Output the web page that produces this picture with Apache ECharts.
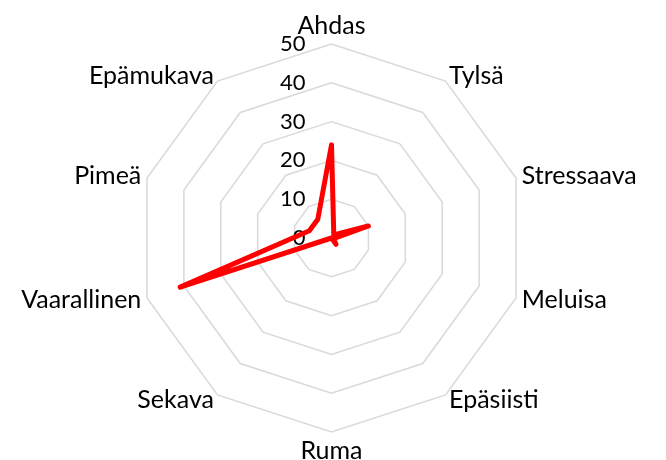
<!DOCTYPE html>
<html><head><meta charset="utf-8">
<script src="https://cdn.jsdelivr.net/npm/echarts@6/dist/echarts.min.js"></script>
<style>html,body{margin:0;padding:0;background:#fff}#c{width:666px;height:460px}</style>
</head><body><div id="c"></div>
<script>
var categories = ['Ahdas','Tylsä','Stressaava','Meluisa','Epäsiisti','Ruma','Sekava','Vaarallinen','Pimeä','Epämukava'];
var values = [24, 1, 10, 0.5, 2, 0, 0, 41, 6, 6];
var axisMax = 50;
var tickStep = 10;

// ECharts radar runs counter-clockwise; reorder (keep first, reverse rest) to read clockwise
function cw(arr){ return [arr[0]].concat(arr.slice(1).reverse()); }

var FONT = 'Lato';
var chart = echarts.init(document.getElementById('c'), null, {renderer:'canvas'});
chart.setOption({
  backgroundColor:'#fff',
  animation:false,
  radar:{
    center:[331.5,238], radius:194, startAngle:90, shape:'polygon', splitNumber:5,
    indicator: cw(categories).map(function(n){return {name:n, min:0, max:axisMax};}),
    axisName:{color:'#000', fontFamily:FONT, fontSize:25},
    nameGap:6,
    axisLine:{show:false},
    splitLine:{lineStyle:{color:'#d9d9d9', width:1.5}},
    splitArea:{show:false},
    axisLabel:{show:false}
  },
  polar:{center:[331.5,238], radius:194},
  angleAxis:{startAngle:90, show:false, min:0, max:360},
  radiusAxis:{min:0, max:axisMax, interval:tickStep, axisLine:{show:false}, axisTick:{show:false}, splitLine:{show:false},
    axisLabel:{show:true, color:'#000', fontFamily:FONT, fontSize:22, margin:26}},
  series:[{type:'radar', symbol:'none', lineStyle:{color:'#ff0000', width:5, join:'round', cap:'round'},
    data:[{value:cw(values)}]}]
});
</script></body></html>
